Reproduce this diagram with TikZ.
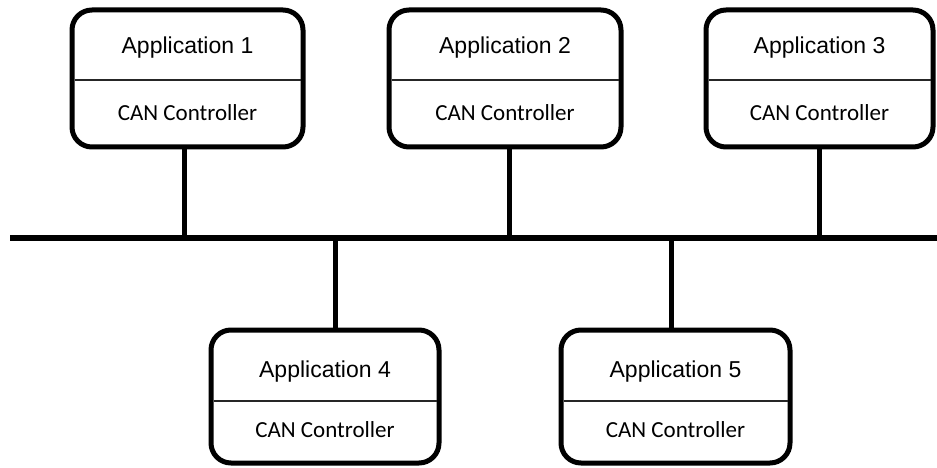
\documentclass[tikz,border=0pt]{standalone}
\usepackage{fontspec}
\setmainfont{Liberation Sans}
\newfontfamily\ctlfont{Carlito}
\usetikzlibrary{calc}
\tikzset{
  x=1pt, y=-1pt,
  ecu/.style={draw=black, line width=5pt, rounded corners=20pt, fill=white,
    inner sep=0pt, outer sep=0pt},
  apptext/.style={anchor=base, inner sep=0pt, font=\fontsize{23}{27}\selectfont},
  ctltext/.style={anchor=base, inner sep=0pt, font=\ctlfont\fontsize{23}{27}\selectfont},
  divider/.style={draw=black!85, line width=1.2pt},
  stem/.style={draw=black, line width=5pt},
  bus/.style={draw=black, line width=6pt},
}
\newcommand{\ecubox}[9]{%
  % #1 name, #2 left, #3 top, #4 right, #5 bottom, #6 app baseline, #7 divider, #8 ctl baseline, #9 number
  \node[ecu, minimum width={#4-#2}, minimum height={#5-#3}] (#1) at ({(#2+#4)/2},{(#3+#5)/2}) {};
  \draw[divider] (#2+2.5,#7) -- (#4-2.5,#7);
  \node[apptext] (#1a) at ({(#2+#4)/2},#6) {Application #9};
  \node[ctltext] (#1c) at ({(#2+#4)/2},#8) {CAN Controller};
}
\begin{document}
\begin{tikzpicture}
  \useasboundingbox (0,0) rectangle (937,468);

  % the bus
  \coordinate (busL) at (10,237.5);
  \coordinate (busR) at (937,237.5);
  \draw[bus] (busL) -- (busR);

  % bus taps
  \coordinate (j1) at (184,237.5);
  \coordinate (j2) at (509,237.5);
  \coordinate (j3) at (819,237.5);
  \coordinate (j4) at (335,237.5);
  \coordinate (j5) at (671,237.5);

  % upper nodes
  \ecubox{b1}{72}{10}{303}{147}{53.5}{80}{120.5}{1}
  \ecubox{b2}{389}{10}{621}{147}{53.5}{80}{120.5}{2}
  \ecubox{b3}{706}{10}{933}{147}{53.5}{80}{120.5}{3}

  % lower nodes
  \ecubox{b4}{211}{330}{439}{463}{377}{401}{437}{4}
  \ecubox{b5}{561}{330}{790}{463}{377}{401}{437}{5}

  % stubs from each node to the bus
  \draw[stem] (j1) -- (j1 |- b1.south);
  \draw[stem] (j2) -- (j2 |- b2.south);
  \draw[stem] (j3) -- (j3 |- b3.south);
  \draw[stem] (j4) -- (j4 |- b4.north);
  \draw[stem] (j5) -- (j5 |- b5.north);
\end{tikzpicture}
\end{document}
